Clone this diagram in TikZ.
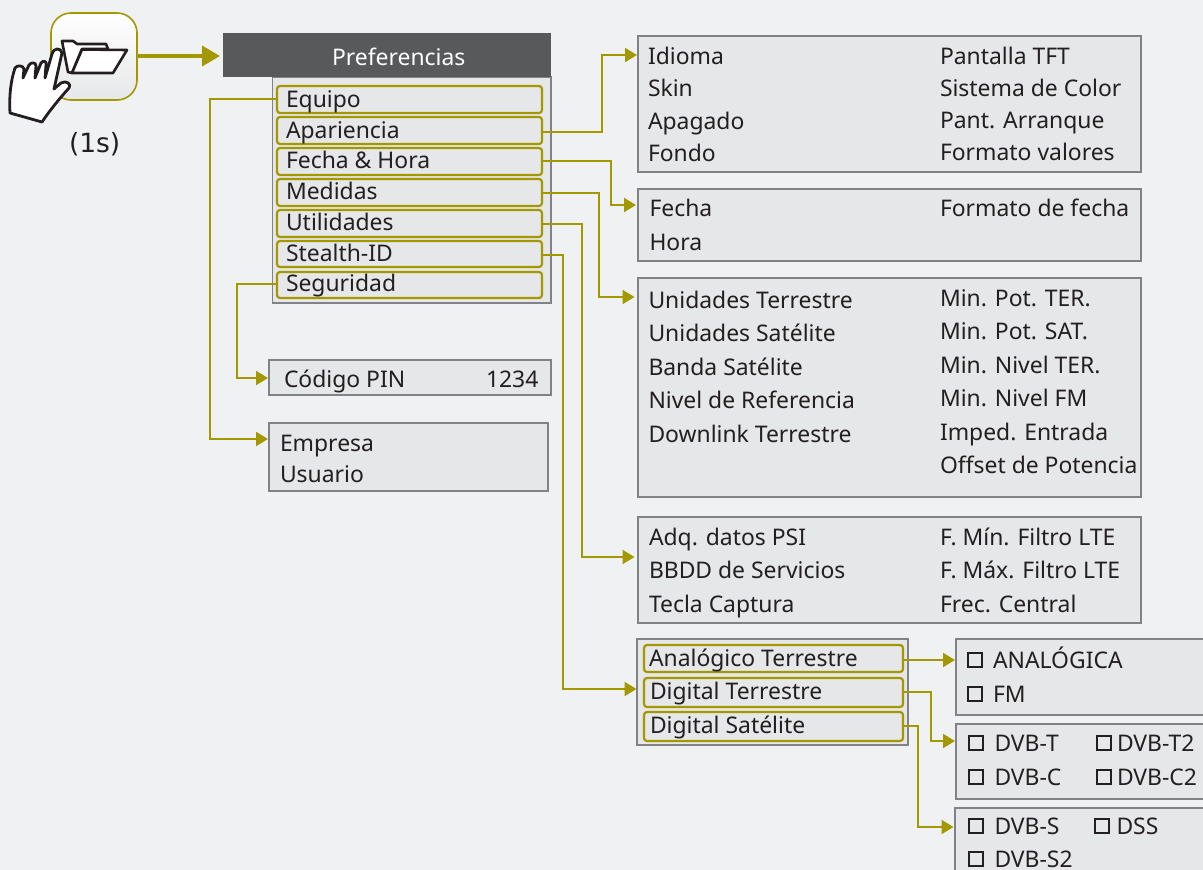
\documentclass[tikz,border=0pt]{standalone}
\usepackage{fontspec}
\setmainfont{Noto Sans}
\newfontfamily\dejavu{DejaVu Sans}
\usetikzlibrary{arrows.meta}
\definecolor{bgc}{HTML}{EFF1F3}
\definecolor{olive}{HTML}{A39800}
\definecolor{boxf}{HTML}{E6E7E8}
\definecolor{boxl}{HTML}{808285}
\definecolor{hdr}{HTML}{58595B}
\definecolor{ink}{HTML}{231F20}
\tikzset{
 panel/.style={draw=boxl,fill=boxf,line width=1.3pt,inner sep=0pt,outer sep=0pt},
 item/.style={draw=olive,fill=boxf,line width=2.2pt,rounded corners=3pt,inner sep=0pt,outer sep=0pt},
 txt/.style={anchor=base west,inner sep=0pt,outer sep=0pt,text=ink,font=\fontsize{22.9}{26}\selectfont},
 conn/.style={draw=olive,line width=2pt,-{Triangle[length=12pt,width=14pt,fill=olive]}},
 cbx/.style={draw=ink,line width=1.8pt,inner sep=0pt,outer sep=0pt,minimum width=14pt,minimum height=14pt},
}
% box from corners: name, x1,y1,x2,y2,style
\newcommand{\bx}[6]{\node[#6,minimum width=#4pt-#2pt,minimum height=#5pt-#3pt,anchor=north west] (#1) at (#2,#3) {};}
\begin{document}
\begin{tikzpicture}[x=1pt,y=-1pt]
\useasboundingbox (0,0) rectangle (1203,870);
\fill[bgc] (0,0) rectangle (1203,870);

% icon
\node[draw=olive,line width=1.6pt,rounded corners=20pt,minimum width=86pt,minimum height=87pt,anchor=north west,inner sep=0pt,outer sep=0pt,top color=white,bottom color=boxf] (icon) at (51,13) {};
\fill[white,draw=ink,line width=2.6pt,line join=round] (62,41) -- (73,41) -- (77,44) -- (106,44) -- (108,49) -- (82,49) -- (72,73) -- (68,72) -- cycle;
\fill[white,draw=ink,line width=2.6pt,line join=round] (82,49.5) -- (127,50) -- (113,73) -- (72,73) -- cycle;
\fill[white,draw=ink,line width=2.8pt,line join=round] (10,113) .. controls (9,95) and (11,80) .. (15,68) .. controls (17,65) and (23,65) .. (24,69) -- (23,78) -- (29,65) .. controls (31,62) and (36,62) .. (36,66) -- (35,78) -- (41,63) .. controls (43,60) and (47,61) .. (46,65) -- (45,78) -- (52,54) .. controls (53,48) and (61,47) .. (62,53) -- (54,89) -- (61,83) .. controls (66,80) and (72,84) .. (69,88) .. controls (60,98) and (50,110) .. (42,122) -- cycle;
\node[txt,font=\dejavu\fontsize{26.5}{28}\selectfont] (oneS) at (69,152) {(1s)};

% header and menu
\bx{menu}{272.5}{77}{551}{303}{panel}
\node[fill=hdr,minimum width=328pt,minimum height=44pt,anchor=north west,inner sep=0pt,outer sep=0pt] (hdr) at (223,33) {};
\node[txt,text=white] (hdrT) at (332,65) {Preferencias};
\bx{equipo}{277}{86}{542}{113}{item}
\bx{apar}{277}{117}{542}{144}{item}
\bx{fecha}{277}{148}{542}{175}{item}
\bx{medidas}{277}{179}{542}{206}{item}
\bx{util}{277}{210}{542}{237}{item}
\bx{stealth}{277}{241}{542}{267}{item}
\bx{segur}{277}{272}{542}{298}{item}
\node[txt] (t1) at (286,107) {Equipo};
\node[txt] (t2) at (286,138) {Apariencia};
\node[txt] (t3) at (286,168) {Fecha \& Hora};
\node[txt] (t4) at (286,199) {Medidas};
\node[txt] (t5) at (286,230) {Utilidades};
\node[txt] (t6) at (286,261) {Stealth-ID};
\node[txt] (t7) at (286,291) {Seguridad};

% panels
\bx{pA}{638}{36}{1141}{172}{panel}
\bx{pF}{638}{189}{1141}{261}{panel}
\bx{pM}{638}{278}{1141}{497}{panel}
\bx{pU}{638}{517}{1141}{623}{panel}
\bx{pS}{637}{639}{908}{745}{panel}
\bx{pPin}{269}{360}{551}{395}{panel}
\bx{pE}{269}{423}{548}{491}{panel}
\bx{pAn}{956}{639}{1210}{715}{panel}
\bx{pDT}{956}{724}{1210}{799}{panel}
\bx{pDS}{955}{808}{1210}{880}{panel}

\bx{an}{644}{645}{903}{672}{item}
\bx{dt}{644}{678}{903}{707}{item}
\bx{ds}{644}{712}{903}{741}{item}

% apariencia
\node[txt] at (648,64) (a1) {Idioma};
\node[txt] at (648,96) (a2) {Skin};
\node[txt] at (648,129) (a3) {Apagado};
\node[txt] at (648,161) (a4) {Fondo};
\node[txt] at (940,64) (a5) {Pantalla TFT};
\node[txt] at (940,96) (a6) {Sistema de Color};
\node[txt] at (940,128) (a7) {Pant. Arranque};
\node[txt] at (940,160) (a8) {Formato valores};
% fecha
\node[txt] at (649.5,216) (f1) {Fecha};
\node[txt] at (649.5,250) (f2) {Hora};
\node[txt] at (940,216) (f3) {Formato de fecha};
% medidas
\node[txt] at (648.5,308) (m1) {Unidades Terrestre};
\node[txt] at (648.5,341) (m2) {Unidades Satélite};
\node[txt] at (648.5,375) (m3) {Banda Satélite};
\node[txt] at (648.5,408) (m4) {Nivel de Referencia};
\node[txt] at (648.5,442) (m5) {Downlink Terrestre};
\node[txt] at (940,306) (m6) {Min. Pot. TER.};
\node[txt] at (940,339) (m7) {Min. Pot. SAT.};
\node[txt] at (940,373) (m8) {Min. Nivel TER.};
\node[txt] at (940,406) (m9) {Min. Nivel FM};
\node[txt] at (940,440) (m10) {Imped. Entrada};
\node[txt] at (940,473) (m11) {Offset de Potencia};
% utilidades
\node[txt] at (649,545) (u1) {Adq. datos PSI};
\node[txt] at (649,578) (u2) {BBDD de Servicios};
\node[txt] at (649,612) (u3) {Tecla Captura};
\node[txt] at (940,545) (u4) {F. Mín. Filtro LTE};
\node[txt] at (940,578) (u5) {F. Máx. Filtro LTE};
\node[txt] at (940,612) (u6) {Frec. Central};
% stealth
\node[txt] at (649,666) (s1) {Analógico Terrestre};
\node[txt] at (650,699) (s2) {Digital Terrestre};
\node[txt] at (650,733) (s3) {Digital Satélite};
% pin, empresa
\node[txt] at (284,387) (p1) {Código PIN};
\node[txt] at (486,387) (p2) {1234};
\node[txt] at (280,451) (e1) {Empresa};
\node[txt] at (280,482) (e2) {Usuario};
% checkboxes
\node[cbx] at (975,660) (c1) {};
\node[txt] at (993,668) (ct1) {ANALÓGICA};
\node[cbx] at (975,694) (c2) {};
\node[txt] at (993,702) (ct2) {FM};
\node[cbx] at (976,743) (c3) {};
\node[txt] at (994.5,751) (ct3) {DVB-T};
\node[cbx] at (1104,743) (c4) {};
\node[txt] at (1117,751) (ct4) {DVB-T2};
\node[cbx] at (976,777) (c5) {};
\node[txt] at (994.5,785) (ct5) {DVB-C};
\node[cbx] at (1104,777) (c6) {};
\node[txt] at (1117,785) (ct6) {DVB-C2};
\node[cbx] at (976,826) (c7) {};
\node[txt] at (994.5,834) (ct7) {DVB-S};
\node[cbx] at (1102,826) (c8) {};
\node[txt] at (1116.5,834) (ct8) {DSS};
\node[cbx] at (976,859) (c9) {};
\node[txt] at (994.5,867) (ct9) {DVB-S2};

% arrow targets and connector starts on the boxes' edges
\coordinate (hdrIn) at (220,56);
\coordinate (iconOut) at (137,56);
\coordinate (eOut) at (277,99);   \coordinate (eIn) at (268,439);
\coordinate (sOut) at (277,284);  \coordinate (sIn) at (268,378);
\coordinate (aOut) at (542,132);  \coordinate (aIn) at (637,55);
\coordinate (fOut) at (542,161);  \coordinate (fIn) at (636,205);
\coordinate (mOut) at (542,193);  \coordinate (mIn) at (634.5,297);
\coordinate (uOut) at (542,224);  \coordinate (uIn) at (634.5,557);
\coordinate (stOut) at (542,255); \coordinate (stIn) at (636.5,689);
\coordinate (anOut) at (903,660); \coordinate (anIn) at (955,660);
\coordinate (dtOut) at (903,692); \coordinate (dtIn) at (955,741);
\coordinate (dsOut) at (903,726); \coordinate (dsIn) at (953.5,827);

% connectors
\draw[olive,line width=3.6pt,-{Triangle[length=18pt,width=20pt,fill=olive]}] (iconOut) -- (hdrIn);
\draw[conn] (eOut) -- (210,99) |- (eIn);
\draw[conn] (sOut) -- (237,284) |- (sIn);
\draw[conn] (aOut) -- (602,132) |- (aIn);
\draw[conn] (fOut) -- (611,161) |- (fIn);
\draw[conn] (mOut) -- (599,193) |- (mIn);
\draw[conn] (uOut) -- (582,224) |- (uIn);
\draw[conn] (stOut) -- (563,255) |- (stIn);
\draw[conn] (anOut) -- (anIn);
\draw[conn] (dtOut) -- (931,692) |- (dtIn);
\draw[conn] (dsOut) -- (918,726) |- (dsIn);
\end{tikzpicture}
\end{document}
